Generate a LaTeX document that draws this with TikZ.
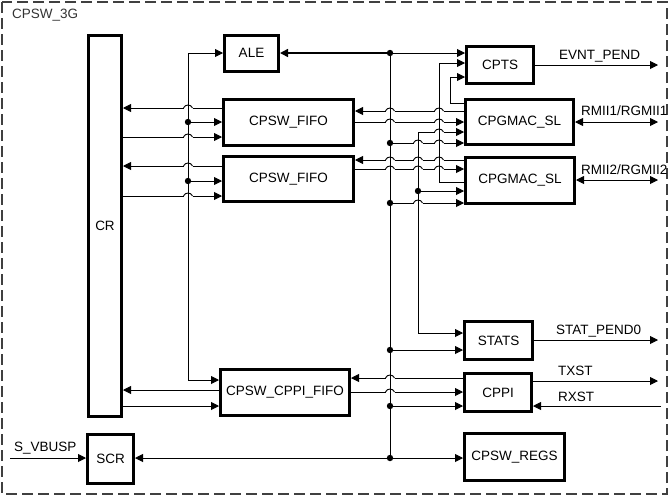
\documentclass[tikz,border=0pt]{standalone}
\usepackage{fontspec}
\setmainfont{Liberation Sans}
\usetikzlibrary{arrows.meta, positioning}

\tikzset{
	box/.style={draw, line width=3pt, minimum width=#1, inner sep=0pt, font=\fontsize{13.5}{16}\selectfont},
	lbl/.style={inner sep=0pt, font=\fontsize{13.5}{16}\selectfont},
	arr/.style={line width=0.9pt, -{Triangle[length=8pt,width=8pt]}},
	biarr/.style={line width=0.9pt, {Triangle[length=8pt,width=8pt]}-{Triangle[length=8pt,width=8pt]}},
}

\begin{document}
\begin{tikzpicture}[x=1pt, y=-1pt]
	\useasboundingbox (0,0) rectangle (671,496);
	\draw[line width=2pt, color=black!75, dash pattern=on 11pt off 5pt] (2,2) rectangle (667,494);
	\node[lbl, color=black!80, anchor=west] (title) at (12,15) {CPSW\_3G};

	\node[box=33pt, minimum height=381pt] (cr) at (105,226) {CR};
	\node[box=54pt, minimum height=36pt] (ale) at (251.5,53) {ALE};
	\node[box=130pt, minimum height=46pt] (fifoa) at (288.5,122.5) {CPSW\_FIFO};
	\node[box=130pt, minimum height=45pt] (fifob) at (288.5,179) {CPSW\_FIFO};
	\node[box=129pt, minimum height=46pt] (cppififo) at (285,392.5) {CPSW\_CPPI\_FIFO};
	\node[box=46pt, minimum height=49pt] (scr) at (110.5,459) {SCR};
	\node[box=67pt, minimum height=37pt] (cpts) at (500,65) {CPTS};
	\node[box=108pt, minimum height=45pt] (gmaca) at (519.5,122) {CPGMAC\_SL};
	\node[box=109pt, minimum height=46pt] (gmacb) at (520,180.5) {CPGMAC\_SL};
	\node[box=68pt, minimum height=38pt] (stats) at (498.5,340.5) {STATS};
	\node[box=67pt, minimum height=38pt] (cppi) at (498,392.5) {CPPI};
	\node[box=100pt, minimum height=47pt] (regs) at (514.5,457) {CPSW\_REGS};

	\coordinate (busltop) at (188,53);
	\coordinate (buslbot) at (188,380);
	\coordinate (busmtop) at (390,53);
	\coordinate (busmbot) at (390,458);
	\coordinate (evnt) at (658,65);
	\coordinate (rmiia) at (658,122);
	\coordinate (rmiib) at (658,180);
	\coordinate (statp) at (658,340);
	\coordinate (txst) at (658,381);
	\coordinate (rxst) at (661,406);
	\coordinate (svbusp) at (10,458);

	\draw[biarr] (ale.west) -- (busltop) -- (buslbot) -- (cppififo.west |- buslbot);
	\draw[line width=0.9pt] (busmtop) -- (busmbot);
	\draw[arr, line width=1.5pt] (busmtop) -- (ale.east);
	\draw[arr] (busmtop) -- (cpts.west |- busmtop);
	\draw[biarr] (scr.east |- busmbot) -- (regs.west |- busmbot);

	\draw[arr] (fifoa.west |- 0,108) -- (cr.east |- 0,108);
	\draw[arr] (188,122) -- (fifoa.west |- 0,122);
	\draw[arr] (cr.east |- 0,137) -- (fifoa.west |- 0,137);
	\draw[arr] (fifob.west |- 0,166) -- (cr.east |- 0,166);
	\draw[arr] (188,181) -- (fifob.west |- 0,181);
	\draw[arr] (cr.east |- 0,196) -- (fifob.west |- 0,196);
	\draw[arr] (cppififo.west |- 0,390) -- (cr.east |- 0,390);
	\draw[arr] (cr.east |- 0,406) -- (cppififo.west |- 0,406);

	\draw[arr] (gmaca.west |- 0,111) -- (fifoa.east |- 0,111);
	\draw[arr] (fifoa.east |- 0,122) -- (gmaca.west |- 0,122);
	\draw[arr] (gmacb.west |- 0,160) -- (fifob.east |- 0,160);
	\draw[arr] (fifob.east |- 0,169) -- (gmacb.west |- 0,169);
	\draw[arr] (cppi.west |- 0,378) -- (cppififo.east |- 0,378);
	\draw[arr] (cppififo.east |- 0,392) -- (cppi.west |- 0,392);

	\draw[arr] (gmaca.west |- 0,103) -| (450,77) -- (cpts.west |- 0,77);
	\draw[arr] (gmacb.west |- 0,182) -| (439,63) -- (cpts.west |- 0,63);
	\draw[biarr] (gmaca.west |- 0,132) -| (418,333) -- (stats.west |- 0,333);
	\draw[arr] (418,191) -- (gmacb.west |- 0,191);
	\draw[arr] (390,143) -- (gmaca.west |- 0,143);
	\draw[arr] (390,203) -- (gmacb.west |- 0,203);
	\draw[arr] (390,350) -- (stats.west |- 0,350);
	\draw[arr] (390,406) -- (cppi.west |- 0,406);

	\draw[arr] (cpts.east) -- (evnt);
	\draw[biarr] (gmaca.east) -- (rmiia);
	\draw[biarr] (gmacb.east |- rmiib) -- (rmiib);
	\draw[arr] (stats.east |- statp) -- (statp);
	\draw[arr] (cppi.east |- txst) -- (txst);
	\draw[arr] (rxst) -- (cppi.east |- rxst);
	\draw[arr] (svbusp) -- (scr.west |- svbusp);

	\foreach \hx/\hy in {188/108, 188/137, 188/166, 188/196, 390/111, 439/111, 390/122, 439/122, 439/132,
		418/143, 439/143, 390/160, 418/160, 439/160, 390/169, 418/169, 439/169, 418/203, 390/378, 390/392} {
		\fill[white] (\hx-4.5,\hy-1.2) rectangle (\hx+4.5,\hy+1.2);
		\draw[line width=0.9pt] (\hx-4.5,\hy) .. controls (\hx-3,\hy-4) and (\hx+3,\hy-4) .. (\hx+4.5,\hy);
		\draw[line width=0.9pt] (\hx,\hy-1.6) -- (\hx,\hy+1.6);
	}
	\foreach \dx/\dy in {390/53, 390/143, 390/203, 390/350, 390/406, 390/458, 188/122, 188/181, 418/191}
		\fill (\dx,\dy) circle (3.2);

	\node[lbl, anchor=west] (evntlbl) at (559,56) {EVNT\_PEND};
	\node[lbl, anchor=west] (rmiialbl) at (581,111) {RMII1/RGMII1};
	\node[lbl, anchor=west] (rmiiblbl) at (581,170) {RMII2/RGMII2};
	\node[lbl, anchor=west] (statplbl) at (556,331) {STAT\_PEND0};
	\node[lbl, anchor=west] (txstlbl) at (558,371) {TXST};
	\node[lbl, anchor=west] (rxstlbl) at (558,397) {RXST};
	\node[lbl, anchor=west] (svbusplbl) at (14,448) {S\_VBUSP};
\end{tikzpicture}
\end{document}
